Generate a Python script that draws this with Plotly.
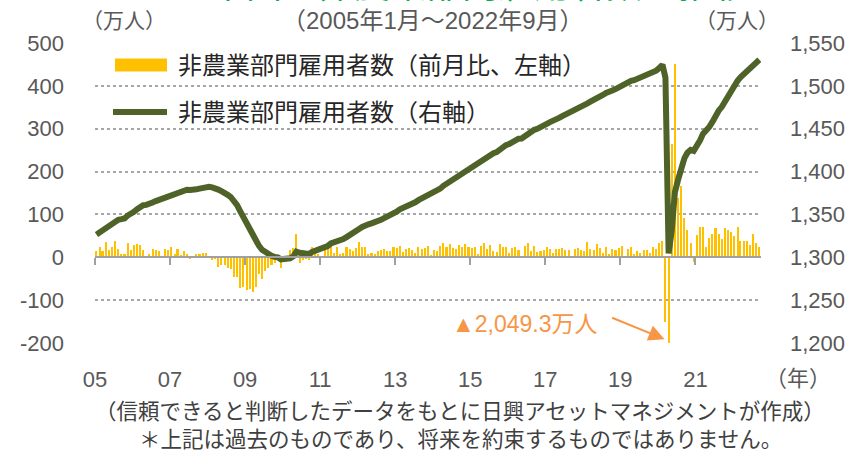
import pandas as pd
import plotly.graph_objects as go

# ---- data ----
start_month = "2005-01-01"
n_months = 213  # 2005-01 .. 2022-09

# monthly change in nonfarm payrolls (万人, left axis)
mom_change = [
    13.6, 24.0, 14.2, 35.9, 16.9, 24.6, 37.3, 19.6, 6.7, 8.4, 33.7, 15.9,   # 2005
    28, 31, 29, 17, 3, 8, 20, 17, 15, 1, 20, 16,                             # 2006
    23, 8, 20, 6, 15, 8, -2, -1, 8, 8, 11, 10,                               # 2007
    1, -7, -4, -22, -19, -17, -25, -28, -46, -46, -72, -70,                  # 2008
    -77, -75, -80, -69, -40, -50, -32, -24, -19, -14, -6, -26,               # 2009
    1, -5, 17, 22, 54, -13, -6, -2, -6, 24, 12, 7,                           # 2010
    4, 19, 22, 31, 10, 23, 7, 11, 23, 20, 14, 21,                            # 2011
    36, 25, 23, 8, 11, 8, 15, 18, 19, 15, 14, 24,                            # 2012
    21, 27, 13, 19, 22, 17, 11, 24, 20, 22, 26, 5,                           # 2013
    18, 15, 26, 33, 23, 31, 21, 20, 29, 24, 30, 25,                          # 2014
    21, 25, 8, 27, 33, 19, 28, 14, 12, 31, 25, 25,                           # 2015
    11, 21, 23, 17, 3, 27, 33, 14, 27, 12, 14, 18,                           # 2016
    23, 20, 11, 19, 19, 21, 18, 17, 4, 20, 21, 17,                           # 2017
    15, 36, 19, 17, 30, 22, 10, 24, 8, 20, 16, 21,                           # 2018
    27, 3, 20, 25, 8, 15, 10, 16, 16, 10, 24, 19,                            # 2019
    33, 37, -151, -2049.3, 264, 450, 139, 166, 91, 64, 33, -12,              # 2020
    52, 70, 70, 25, 44, 54, 68, 55, 42, 68, 64, 58,                          # 2021
    50, 70, 39, 37, 39, 29, 54, 33, 25,                                      # 2022
]

# nonfarm payroll level (right axis)
level = [
    1326.5, 1328.9, 1330.3, 1333.9, 1335.6, 1338.1, 1341.8, 1343.8, 1344.5, 1345.3, 1348.7, 1350.3,
    1353.1, 1356.2, 1359.1, 1360.8, 1361.1, 1361.9, 1363.9, 1365.6, 1367.1, 1367.2, 1369.2, 1370.8,
    1373.1, 1373.9, 1375.9, 1376.5, 1378.0, 1378.8, 1378.6, 1378.5, 1379.3, 1380.1, 1381.2, 1382.2,
    1382.3, 1381.6, 1381.2, 1379.0, 1377.1, 1375.4, 1372.9, 1370.1, 1365.5, 1360.9, 1353.7, 1346.7,
    1339.5, 1332.0, 1324.0, 1317.5, 1313.5, 1308.8, 1305.8, 1303.6, 1301.8, 1300.5, 1300.0, 1297.6,
    1297.7, 1297.2, 1298.9, 1301.1, 1306.5, 1305.2, 1304.6, 1304.4, 1303.8, 1306.2, 1307.4, 1308.1,
    1308.9, 1310.8, 1313.0, 1316.1, 1317.1, 1319.4, 1320.1, 1321.2, 1323.5, 1325.5, 1326.9, 1329.0,
    1332.9, 1335.4, 1337.7, 1338.5, 1339.6, 1340.4, 1341.9, 1343.7, 1345.6, 1347.1, 1348.5, 1350.9,
    1353.3, 1356.0, 1357.3, 1359.2, 1361.4, 1363.1, 1364.2, 1366.6, 1368.6, 1370.8, 1373.4, 1373.9,
    1376.0, 1377.5, 1380.1, 1383.4, 1385.7, 1388.8, 1390.9, 1392.9, 1395.8, 1398.2, 1401.2, 1403.7,
    1406.1, 1408.6, 1409.4, 1412.1, 1415.4, 1417.3, 1420.1, 1421.5, 1422.7, 1425.8, 1428.3, 1430.8,
    1432.2, 1434.3, 1436.6, 1438.3, 1438.6, 1441.3, 1444.6, 1446.0, 1448.7, 1449.9, 1451.3, 1453.1,
    1455.7, 1457.7, 1458.8, 1460.7, 1462.6, 1464.7, 1466.5, 1468.2, 1468.6, 1470.6, 1472.7, 1474.4,
    1476.0, 1479.6, 1481.5, 1483.2, 1486.2, 1488.4, 1489.4, 1491.8, 1492.6, 1494.6, 1496.2, 1498.3,
    1501.0, 1501.3, 1503.3, 1505.8, 1506.6, 1508.1, 1509.1, 1510.7, 1512.3, 1513.3, 1515.7, 1517.6,
    1520.9, 1524.6, 1509.5, 1304.6, 1331.0, 1376.0, 1390.0, 1406.5, 1415.5, 1422.0, 1425.3, 1424.1,
    1429.0, 1436.5, 1444.0, 1447.0, 1452.0, 1458.0, 1465.0, 1471.0, 1475.5, 1482.0, 1488.5, 1494.5,
    1499.5, 1506.0, 1510.0, 1513.5, 1517.0, 1520.0, 1525.0, 1528.0, 1530.5,
]

left_tickvals = [-200, -100, 0, 100, 200, 300, 400, 500]
left_ticktext = ["-200", "-100", "0", "100", "200", "300", "400", "500"]
right_tickvals = [1200, 1250, 1300, 1350, 1400, 1450, 1500, 1550]
right_ticktext = ["1,200", "1,250", "1,300", "1,350", "1,400", "1,450", "1,500", "1,550"]

bar_name = "非農業部門雇用者数（前月比、左軸）"
line_name = "非農業部門雇用者数（右軸）"
title_text = "米国の非農業部門雇用者数の推移"
subtitle_text = "（2005年1月～2022年9月）"
unit_text = "（万人）"
year_text = "（年）"
note1 = "（信頼できると判断したデータをもとに日興アセットマネジメントが作成）"
note2 = "＊上記は過去のものであり、将来を約束するものではありません。"
callout_text = "▲2,049.3万人"
callout_x = "2020-03-07"
callout_y = -191

# ---- build ----
months = pd.date_range(start_month, periods=n_months, freq="MS") + pd.Timedelta(days=14)

BAR = "#FFC000"
LINE = "#4F6228"
GRAY = "#595959"
ORANGE = "#F79646"
FONT = "Liberation Sans, Arial, Noto Sans CJK JP, sans-serif"
JFONT = "Noto Sans CJK JP, sans-serif"

fig = go.Figure()
fig.add_trace(go.Bar(x=months, y=mom_change, name=bar_name, marker_color=BAR,
                     marker_line_width=0, width=20 * 24 * 3600 * 1000, yaxis="y"))
fig.add_trace(go.Scatter(x=months, y=level, name=line_name, mode="lines",
                         line=dict(color=LINE, width=6), yaxis="y2"))

W, H = 851, 450
L, R, T, B = 95, 90, 43, 107
pw, ph = W - L - R, H - T - B

def px(x):
    return (x - L) / pw

def py(y):
    return (H - B - y) / ph

fig.update_layout(
    width=W, height=H,
    margin=dict(l=L, r=R, t=T, b=B, pad=0),
    paper_bgcolor="white", plot_bgcolor="white",
    showlegend=False,
    bargap=0,
    font=dict(family=FONT, color=GRAY, size=22),
    xaxis=dict(
        type="date",
        range=["2005-01-01", "2022-10-01"],
        tick0="2005-01-01", dtick="M24", tickformat="%y",
        anchor="free", position=2 / 7,
        showline=True, linecolor="#A0A0A0", linewidth=2,
        ticks="outside", ticklen=7, tickwidth=2, tickcolor="#A0A0A0",
        showgrid=False, zeroline=False,
        ticklabelstandoff=95,
        tickfont=dict(size=22, color=GRAY, family=FONT),
        automargin=False,
    ),
    yaxis=dict(
        range=[-200, 500], tickvals=left_tickvals, ticktext=left_ticktext,
        showgrid=True, gridcolor="#A6A6A6", griddash="dot", gridwidth=1.5,
        zeroline=False, showline=False, ticks="",
        ticklabelstandoff=30,
        tickfont=dict(size=22, color=GRAY, family=FONT),
        automargin=False,
    ),
    yaxis2=dict(
        range=[1200, 1550], tickvals=right_tickvals, ticktext=right_ticktext,
        overlaying="y", side="right", anchor="x",
        showgrid=False, zeroline=False, showline=False, ticks="",
        ticklabelstandoff=28,
        tickfont=dict(size=22, color=GRAY, family=FONT),
        automargin=False,
    ),
)

ann = []
ann.append(dict(text=title_text, xref="paper", yref="paper", x=px(480), y=py(10),
                xanchor="center", yanchor="bottom", showarrow=False,
                font=dict(size=36, color="#00B050", family=JFONT)))
ann.append(dict(text=subtitle_text, xref="paper", yref="paper", x=px(432), y=py(20),
                xanchor="center", yanchor="middle", showarrow=False,
                font=dict(size=24, color=GRAY, family=FONT)))
ann.append(dict(text=unit_text, xref="paper", yref="paper", x=px(124), y=py(20),
                xanchor="center", yanchor="middle", showarrow=False,
                font=dict(size=21, color=GRAY, family=FONT)))
ann.append(dict(text=unit_text, xref="paper", yref="paper", x=px(737), y=py(20),
                xanchor="center", yanchor="middle", showarrow=False,
                font=dict(size=21, color=GRAY, family=FONT)))
ann.append(dict(text=year_text, xref="paper", yref="paper", x=px(798), y=py(378),
                xanchor="center", yanchor="middle", showarrow=False,
                font=dict(size=22, color=GRAY, family=FONT)))
ann.append(dict(text=note1, xref="paper", yref="paper", x=px(460), y=py(409),
                xanchor="center", yanchor="middle", showarrow=False,
                font=dict(size=21.5, color="#404040", family=JFONT)))
ann.append(dict(text=note2, xref="paper", yref="paper", x=px(460), y=py(437),
                xanchor="center", yanchor="middle", showarrow=False,
                font=dict(size=21.5, color="#404040", family=JFONT)))
# legend (manual)
ann.append(dict(text=bar_name, xref="paper", yref="paper", x=px(176), y=py(65),
                xanchor="left", yanchor="middle", showarrow=False,
                font=dict(size=24, color="#262626", family=FONT)))
ann.append(dict(text=line_name, xref="paper", yref="paper", x=px(176), y=py(112),
                xanchor="left", yanchor="middle", showarrow=False,
                font=dict(size=24, color="#262626", family=FONT)))
# callout
ann.append(dict(text=callout_text, xref="paper", yref="paper", x=px(525), y=py(324),
                xanchor="center", yanchor="middle", showarrow=False,
                font=dict(size=23, color=ORANGE, family=FONT)))
ann.append(dict(text="", x=callout_x, y=callout_y, xref="x", yref="y",
                showarrow=True, ax=-54, ay=-22, arrowhead=2, arrowsize=1.6,
                arrowwidth=2, arrowcolor=ORANGE, standoff=0))
fig.update_layout(annotations=ann)

shapes = [
    dict(type="rect", xref="paper", yref="paper", x0=px(115), x1=px(167),
         y0=py(71.5), y1=py(58.5), fillcolor=BAR, line=dict(width=0)),
    dict(type="line", xref="paper", yref="paper", x0=px(113), x1=px(167),
         y0=py(112), y1=py(112), line=dict(color=LINE, width=6)),
]
fig.update_layout(shapes=shapes)

fig.write_html("out.html", config={"displayModeBar": False},
               post_script="document.body.style.margin='0';")
